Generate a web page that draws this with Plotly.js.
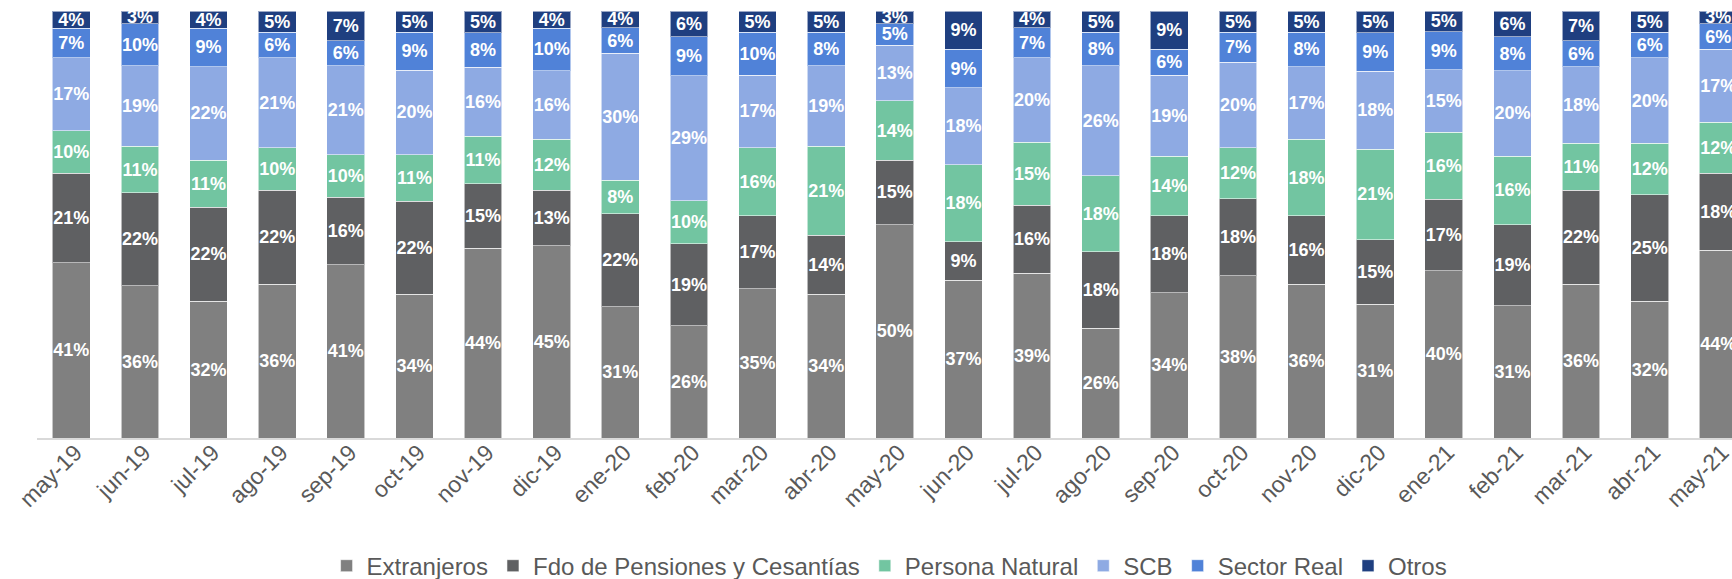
<!DOCTYPE html>
<html>
<head>
<meta charset="utf-8">
<script src="https://cdn.plot.ly/plotly-3.0.1.min.js"></script>
<style>html,body{margin:0;padding:0;background:#fff;}#chart{width:1732px;height:579px;}</style>
</head>
<body>
<div id="chart"></div>
<script>
const categories = ["may-19","jun-19","jul-19","ago-19","sep-19","oct-19","nov-19","dic-19","ene-20","feb-20","mar-20","abr-20","may-20","jun-20","jul-20","ago-20","sep-20","oct-20","nov-20","dic-20","ene-21","feb-21","mar-21","abr-21","may-21"];
const extranjeros = [41,36,32,36,41,34,44,45,31,26,35,34,50,37,39,26,34,38,36,31,40,31,36,32,44];
const fdoPensiones = [21,22,22,22,16,22,15,13,22,19,17,14,15,9,16,18,18,18,16,15,17,19,22,25,18];
const personaNatural = [10,11,11,10,10,11,11,12,8,10,16,21,14,18,15,18,14,12,18,21,16,16,11,12,12];
const scb = [17,19,22,21,21,20,16,16,30,29,17,19,13,18,20,26,19,20,17,18,15,20,18,20,17];
const sectorReal = [7,10,9,6,6,9,8,10,6,9,10,8,5,9,7,8,6,7,8,9,9,8,6,6,6];
const otros = [4,3,4,5,7,5,5,4,4,6,5,5,3,9,4,5,9,5,5,5,5,6,7,5,3];

const seriesNames = ["Extranjeros","Fdo de Pensiones y Cesantías","Persona Natural","SCB","Sector Real","Otros"];
const seriesValues = [extranjeros, fdoPensiones, personaNatural, scb, sectorReal, otros];
const seriesColors = ["#808080","#5f6062","#72c5a1","#8eaae3","#5082d8","#1f3f80"];

// The labels are rounded shares; each month's shares add up to 100 %.
const totals = categories.map((c, j) => seriesValues.reduce((s, arr) => s + arr[j], 0));

const traces = seriesNames.map((name, i) => ({
  type: 'bar',
  name: name,
  x: categories,
  y: seriesValues[i].map((v, j) => v * 100 / totals[j]),
  text: seriesValues[i].map(v => v + '%'),
  textposition: 'inside',
  insidetextanchor: 'middle',
  textangle: 0,
  constraintext: 'none',
  cliponaxis: true,
  textfont: {family: 'Liberation Sans, Arial, sans-serif', size: 18, color: '#ffffff', weight: 'bold'},
  marker: {color: seriesColors[i], line: {color: 'rgba(255,255,255,0.55)', width: 1}},
  hoverinfo: 'none'
}));

const layout = {
  width: 1732,
  height: 579,
  barmode: 'stack',
  bargap: 0.45,
  margin: {l: 37, r: 0, t: 11, b: 141, autoexpand: false},
  paper_bgcolor: '#ffffff',
  plot_bgcolor: '#ffffff',
  font: {family: 'Liberation Sans, Arial, sans-serif', color: '#595959'},
  xaxis: {
    type: 'category',
    automargin: false,
    range: [-0.5, 24.2],
    tickangle: -45,
    tickfont: {size: 23, color: '#595959'},
    ticklabelstandoff: -10,
    ticklabelshift: 4,
    showline: true,
    linecolor: '#d9d9d9',
    linewidth: 2,
    ticks: '',
    showgrid: false,
    zeroline: false,
    fixedrange: true
  },
  yaxis: {
    automargin: false,
    range: [0, 100],
    showticklabels: false,
    showgrid: false,
    zeroline: false,
    showline: false,
    ticks: '',
    fixedrange: true
  },
  showlegend: true,
  legend: {
    orientation: 'h',
    x: 0.503,
    xanchor: 'center',
    y: -0.300,
    yanchor: 'middle',
    font: {size: 24, color: '#595959'},
    traceorder: 'normal',
    itemclick: false
  }
};

Plotly.newPlot('chart', traces, layout, {displayModeBar: false, staticPlot: true});
</script>
</body>
</html>
